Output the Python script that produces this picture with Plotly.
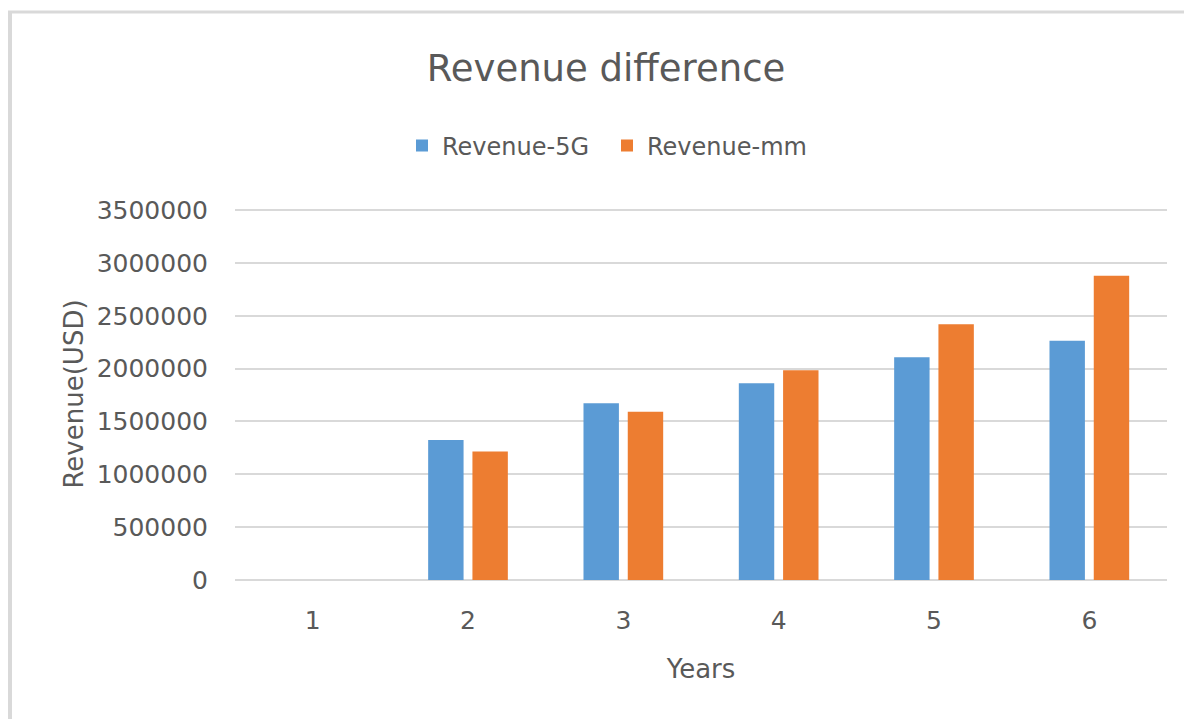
import plotly.graph_objects as go

# chart values
years = ['1', '2', '3', '4', '5', '6']
revenue_5g = [0, 1324000, 1672000, 1861000, 2107000, 2264000]
revenue_mm = [0, 1217000, 1592000, 1984000, 2419000, 2879000]
y_ticks = [0, 500000, 1000000, 1500000, 2000000, 2500000, 3000000, 3500000]
y_top = 3520000  # a bit above the last tick so its grid line is drawn

# the page body adds an 8px margin, so the figure is drawn 8px in from the window edge
OFF = 8
W, H = 1192 - OFF, 719 - OFF
PX_PER_UNIT = (580 - 210) / 3500000
L, R, B = 235 - OFF, 1192 - 1167, 719 - 580
T = round(210 - (y_top - 3500000) * PX_PER_UNIT) - OFF
TEXT = '#595959'
FONT = 'DejaVu Sans'


def px_to_paper_x(px):
    return (px - OFF - L) / (W - L - R)


def px_to_paper_y(py):
    return (H - B - (py - OFF)) / (H - T - B)


fig = go.Figure()

fig.add_trace(go.Bar(
    x=years,
    y=revenue_5g,
    name='Revenue-5G',
    marker=dict(color='#5B9BD5', line=dict(width=0)),
))

fig.add_trace(go.Bar(
    x=years,
    y=revenue_mm,
    name='Revenue-mm',
    marker=dict(color='#ED7D31', line=dict(width=0)),
))

fig.update_layout(
    width=W,
    height=H,
    margin=dict(l=L, r=R, t=T, b=B),
    paper_bgcolor='white',
    plot_bgcolor='white',
    barmode='group',
    bargap=0.43,
    bargroupgap=0.2,
    font=dict(family=FONT, color=TEXT),
    title=dict(
        text='Revenue difference',
        font=dict(size=37, color=TEXT, family=FONT),
        xref='container', x=(606 - OFF) / W, xanchor='center',
        yref='container', y=1 - (68 - OFF) / H, yanchor='middle',
    ),
    legend=dict(
        orientation='h',
        xref='container', x=(607 - OFF) / W, xanchor='center',
        yref='container', y=1 - (146 - OFF) / H, yanchor='middle',
        font=dict(size=24, color=TEXT),
        itemwidth=30,
        entrywidth=160,
    ),
    showlegend=True,
)

fig.update_xaxes(
    title=dict(text='Years', font=dict(size=26, color=TEXT), standoff=25),
    tickfont=dict(size=25, color=TEXT),
    showgrid=False,
    showline=False,
    ticks='outside', ticklen=18, tickcolor='rgba(0,0,0,0)',
)

fig.update_yaxes(
    title=dict(text='Revenue(USD)', font=dict(size=26, color=TEXT), standoff=5),
    range=[0, y_top],
    tickvals=y_ticks,
    ticktext=[str(v) for v in y_ticks],
    tickfont=dict(size=25, color=TEXT),
    showgrid=True, gridcolor='#d9d9d9', gridwidth=2,
    zeroline=True, zerolinecolor='#d9d9d9', zerolinewidth=2,
    showline=False,
    ticks='outside', ticklen=21, tickcolor='rgba(0,0,0,0)',
)

# light frame of the chart area (left and top edges)
fig.add_shape(type='line', xref='paper', yref='paper',
              x0=px_to_paper_x(10), x1=px_to_paper_x(10),
              y0=px_to_paper_y(12), y1=px_to_paper_y(719),
              line=dict(color='#d9d9d9', width=4))
fig.add_shape(type='line', xref='paper', yref='paper',
              x0=px_to_paper_x(8), x1=px_to_paper_x(1192),
              y0=px_to_paper_y(12), y1=px_to_paper_y(12),
              line=dict(color='#d9d9d9', width=3))

fig.write_html('out.html')
